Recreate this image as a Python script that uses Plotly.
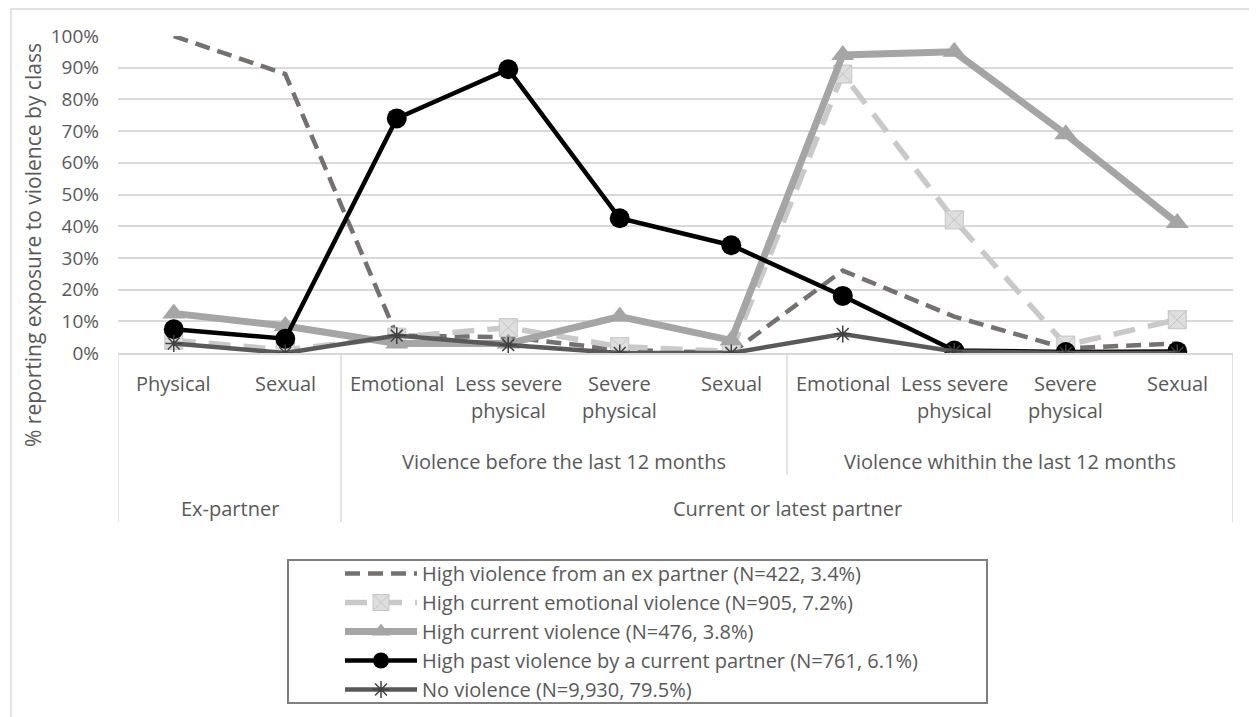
import plotly.graph_objects as go

# ---- data ----
categories = ["Physical", "Sexual", "Emotional", "Less severe\nphysical", "Severe\nphysical", "Sexual",
              "Emotional", "Less severe\nphysical", "Severe\nphysical", "Sexual"]
level2_labels = ["Violence before the last 12 months", "Violence whithin the last 12 months"]
level2_span = [(2, 5), (6, 9)]
level3_labels = ["Ex-partner", "Current or latest partner"]
level3_span = [(0, 1), (2, 9)]

series_names = [
    "High violence from an ex partner (N=422, 3.4%)",
    "High current emotional violence (N=905, 7.2%)",
    "High current violence (N=476, 3.8%)",
    "High past violence by a current partner (N=761, 6.1%)",
    "No violence (N=9,930, 79.5%)",
]
ex_partner_high = [100, 88, 5.5, 5, 1, 0, 26, 11.5, 1.5, 3]
current_emotional = [4, 1, 5, 8, 2, 0.5, 88, 42, 2.5, 10.5]
current_violence = [12.5, 8.5, 3, 3, 11.5, 4, 94, 95, 69, 41]
past_current = [7.5, 4.5, 74, 89.5, 42.5, 34, 18, 0.8, 0.3, 0.5]
no_violence = [3, 0, 5.5, 2.5, 0, 0, 6, 0.5, 0, 0]
y_ticks = [i / 10 for i in range(11)]

FONT = "Open Sans"
TXT = "#595959"
GRID = "#d9d9d9"

OFF = 8  # page body margin
W, H = 1257 - OFF, 717 - OFF
# plot area in screen pixels (reference)
SL, SR, ST, SB = 118, 1233, 36, 353
L, R, T, B = SL - OFF, SR - OFF, ST - OFF, SB - OFF


def py(p):  # screen pixel y -> paper y
    return (SB - p) / (SB - ST)


def px(p):  # screen pixel x -> paper x
    return (p - SL) / (SR - SL)


xs = list(range(len(categories)))
fig = go.Figure()

styles = [
    dict(line=dict(color="#767171", width=4.5, dash="15px,8px"), mode="lines"),
    dict(line=dict(color="#c9c9c9", width=5.5, dash="22px,13px"), mode="lines+markers",
         marker=dict(symbol="square-x", size=18, color="#dedede", line=dict(color="#c4c4c4", width=1))),
    dict(line=dict(color="#a5a5a5", width=7), mode="lines+markers",
         marker=dict(symbol="triangle-up", size=20, color="#a5a5a5")),
    dict(line=dict(color="#000000", width=4.5), mode="lines+markers",
         marker=dict(symbol="circle", size=20, color="#000000")),
    dict(line=dict(color="#595959", width=4.5), mode="lines+markers",
         marker=dict(symbol="asterisk-open", size=14, color="#404040", line=dict(color="#303030", width=1.5))),
]
all_series = [ex_partner_high, current_emotional, current_violence, past_current, no_violence]
for name, vals, st in zip(series_names, all_series, styles):
    fig.add_trace(go.Scatter(x=xs, y=[v / 100 for v in vals], name=name, **st))

LBL = 20
annotations = []
for i, lab in enumerate(categories):
    for j, ln in enumerate(lab.split("\n")):
        annotations.append(dict(x=i, y=py(383 + 27 * j), xref="x", yref="paper", text=ln,
                                showarrow=False, xanchor="center", yanchor="middle",
                                font=dict(family=FONT, size=LBL, color=TXT)))
for lab, (a, b) in zip(level2_labels, level2_span):
    annotations.append(dict(x=(a + b) / 2, y=py(461), xref="x", yref="paper", text=lab,
                            showarrow=False, xanchor="center", yanchor="middle",
                            font=dict(family=FONT, size=LBL, color=TXT)))
for lab, (a, b) in zip(level3_labels, level3_span):
    annotations.append(dict(x=(a + b) / 2, y=py(508), xref="x", yref="paper", text=lab,
                            showarrow=False, xanchor="center", yanchor="middle",
                            font=dict(family=FONT, size=LBL, color=TXT)))
annotations.append(dict(x=px(33), y=py(245), xref="paper", yref="paper",
                        text="% reporting exposure to violence by class", textangle=-90,
                        showarrow=False, xanchor="center", yanchor="middle",
                        font=dict(family=FONT, size=21, color=TXT)))

shapes = []
for xv, bottom in [(-0.5, 522), (1.5, 522), (5.5, 475), (9.5, 522)]:
    shapes.append(dict(type="line", xref="x", yref="paper", x0=xv, x1=xv, y0=0, y1=py(bottom),
                       line=dict(color=GRID, width=1.5)))
# outer chart frame
shapes.append(dict(type="rect", xref="paper", yref="paper", x0=px(11), x1=px(1270), y0=py(9), y1=py(730),
                   line=dict(color=GRID, width=1.5), fillcolor="rgba(0,0,0,0)", layer="below"))
# legend frame
shapes.append(dict(type="rect", xref="paper", yref="paper", x0=px(288), x1=px(987), y0=py(560), y1=py(703),
                   line=dict(color="#7f7f7f", width=2), fillcolor="rgba(0,0,0,0)"))

fig.update_layout(
    width=W, height=H,
    margin=dict(l=L, r=W - R, t=T, b=H - B, autoexpand=False),
    paper_bgcolor="white", plot_bgcolor="white",
    font=dict(family=FONT, size=LBL, color=TXT),
    showlegend=True,
    legend=dict(x=px(340), y=py(554), xanchor="left", yanchor="top", xref="paper", yref="paper",
                bgcolor="rgba(0,0,0,0)", borderwidth=0, itemwidth=72, tracegroupgap=0,
                font=dict(family=FONT, size=20, color=TXT)),
    xaxis=dict(range=[-0.5, 9.5], showticklabels=False, showgrid=False, zeroline=False,
               showline=True, linecolor=GRID, linewidth=1.5, fixedrange=True),
    yaxis=dict(range=[0, 1], tickvals=y_ticks, tickformat=".0%", showgrid=True, gridcolor=GRID,
               gridwidth=1.5, zeroline=False, showline=False, ticks="", ticklabelstandoff=18,
               tickfont=dict(family=FONT, size=19, color=TXT)),
    annotations=annotations,
    shapes=shapes,
)

fig.write_html("out.html")
